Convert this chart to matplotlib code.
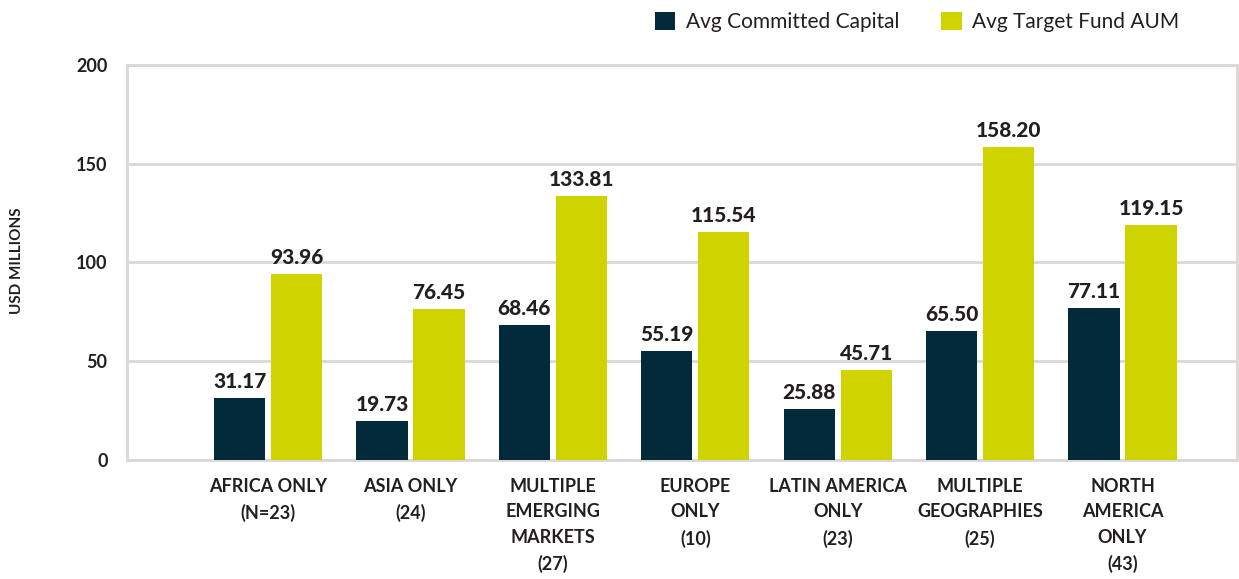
import matplotlib.pyplot as plt
import numpy as np

plt.rcParams['font.family'] = ['Lato', 'DejaVu Sans']

categories = ["AFRICA ONLY\n(N=23)", "ASIA ONLY\n(24)", "MULTIPLE\nEMERGING\nMARKETS\n(27)",
              "EUROPE\nONLY\n(10)", "LATIN AMERICA\nONLY\n(23)", "MULTIPLE\nGEOGRAPHIES\n(25)",
              "NORTH\nAMERICA\nONLY\n(43)"]
committed = [31.17, 19.73, 68.46, 55.19, 25.88, 65.50, 77.11]
target = [93.96, 76.45, 133.81, 115.54, 45.71, 158.20, 119.15]

dark = "#022a3a"
yellow = "#cfd300"
grid_c = "#dad7d7"
text_c = "#231f20"

fig = plt.figure(figsize=(12.39, 5.79), dpi=100)
ax = fig.add_axes([0.1025, 0.2055, 0.8955, 0.6825])

x = np.arange(len(categories))
w = 0.36
b1 = ax.bar(x - 0.2, committed, w, color=dark, label="Avg Committed Capital", zorder=3)
b2 = ax.bar(x + 0.2, target, w, color=yellow, label="Avg Target Fund AUM", zorder=3)

for bars, vals in [(b1, committed), (b2, target)]:
    for b, v in zip(bars, vals):
        ax.annotate("%.2f" % v, (b.get_x() + b.get_width() / 2, v), xytext=(0, 5),
                    textcoords="offset points", ha="center", va="bottom",
                    fontsize=15, fontweight="black", color=text_c)

ax.set_xlim(-0.99, 6.8)
ax.set_ylim(0, 200)
ax.set_yticks([0, 50, 100, 150, 200])
ax.yaxis.grid(True, color=grid_c, lw=2, zorder=0)
for s in ax.spines.values():
    s.set_color(grid_c)
    s.set_linewidth(2)
ax.tick_params(axis="both", length=0)
ax.tick_params(axis="y", pad=14, labelsize=13, labelcolor=text_c)
ax.tick_params(axis="x", pad=13, labelsize=13, labelcolor=text_c)
for t in ax.get_yticklabels():
    t.set_fontweight("bold")
ax.set_xticks(x)
ax.set_xticklabels(categories, linespacing=1.6, fontweight="bold")

fig.text(0.014, 0.55, "USD MILLIONS", rotation=90, ha="center", va="center",
         fontsize=11, fontweight="bold", color=text_c)

fig.legend(loc="center right", bbox_to_anchor=(0.967, 0.962), ncol=2, frameon=False,
           fontsize=15, handlelength=1.0, handleheight=1.0, handletextpad=0.5,
           columnspacing=2.0, labelcolor=text_c)

fig.savefig("out.png", dpi=100)
